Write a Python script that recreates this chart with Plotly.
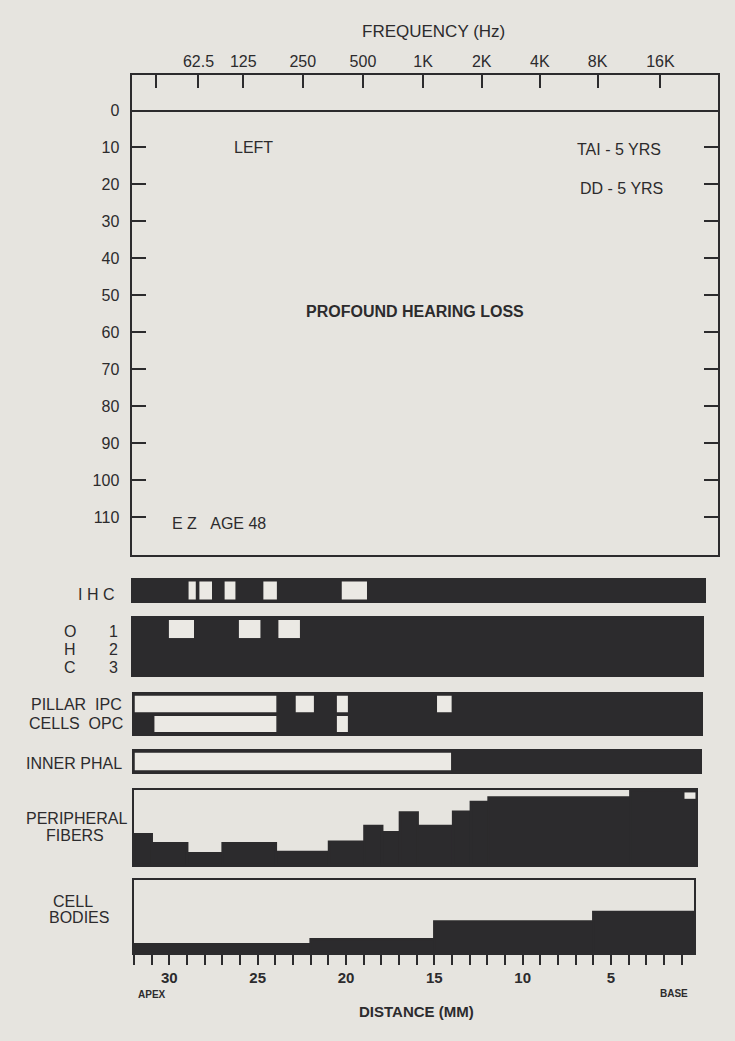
import plotly.graph_objects as go

W, H = 735, 1041
PAPER = "#e6e4df"
INK = "#2c2b2d"
LIGHT = "#ebe9e4"
FONT = "Liberation Sans, Arial, Helvetica, sans-serif"

# ---------------- data ----------------
db_ticks = [0, 10, 20, 30, 40, 50, 60, 70, 80, 90, 100, 110]
freq_labels = ["", "62.5", "125", "250", "500", "1K", "2K", "4K", "8K", "16K"]
freq_mm = [30.65, 28.38, 25.96, 22.74, 19.49, 16.24, 13.07, 9.93, 6.81, 3.41]

# inner hair cells: segments shown light (mm from base)
ihc_start = [28.9, 28.3, 26.9, 24.75, 20.4]
ihc_end = [28.5, 27.6, 26.3, 24.0, 19.0]

# outer hair cells (row 1..3): light segments
ohc_row = [1, 1, 1]
ohc_start = [30.0, 26.1, 23.9]
ohc_end = [28.6, 24.9, 22.7]

# pillar cells: light segments
ipc_start = [32.0, 23.0, 20.7, 15.1]
ipc_end = [24.0, 21.9, 20.0, 14.2]
opc_start = [30.9, 20.7]
opc_end = [24.0, 20.0]

# inner phalangeal cells: light segments
iph_start = [32.0]
iph_end = [14.2]

# peripheral fibers: step profile (fraction of normal)
pf_edges = [32, 31, 29, 27, 24, 21, 19, 18, 17, 16, 14, 13, 12, 4, 0.3]
pf_levels = [0.41, 0.29, 0.156, 0.29, 0.173, 0.31, 0.52, 0.436, 0.70, 0.52, 0.71, 0.84, 0.90, 1.0]
pf_gap_start = [0.95]
pf_gap_end = [0.33]

# spiral ganglion cell bodies: step profile
cb_edges = [32, 22, 15, 6, 0.3]
cb_levels = [0.12, 0.19, 0.43, 0.56]

dist_ticks = list(range(1, 33))
dist_labels = [f"<b>{v}</b>" if v % 5 == 0 and v <= 30 else "" for v in dist_ticks]

XR = [32, 0.3]


def px(x):
    return x / W


def py(y):
    return 1 - y / H


def xax(l, r, anchor, **kw):
    d = dict(domain=[px(l), px(r)], range=XR, anchor=anchor, showline=True, mirror=True,
             linecolor=INK, linewidth=2, showgrid=False, zeroline=False, ticks="",
             showticklabels=False, fixedrange=True)
    d.update(kw)
    return d


def yax(top, bot, rng, anchor, **kw):
    d = dict(domain=[py(bot), py(top)], range=rng, anchor=anchor, showline=True, mirror=True,
             linecolor=INK, linewidth=2, showgrid=False, zeroline=False, ticks="",
             showticklabels=False, fixedrange=True)
    d.update(kw)
    return d


fig = go.Figure()


def seg_bars(starts, ends, ycenter, width, xa, ya, color=LIGHT, lw=0):
    fig.add_trace(go.Bar(
        orientation="h",
        y=ycenter, x=[s - e for s, e in zip(starts, ends)], base=ends,
        width=width, marker=dict(color=color, line=dict(color=INK, width=lw)),
        xaxis=xa, yaxis=ya, hoverinfo="skip", showlegend=False))


def profile_bars(edges, levels, xa, ya):
    centers = [(a + b) / 2 for a, b in zip(edges[:-1], edges[1:])]
    widths = [a - b for a, b in zip(edges[:-1], edges[1:])]
    fig.add_trace(go.Bar(
        x=centers, y=levels, width=widths,
        marker=dict(color=INK, line=dict(color=INK, width=2.5)),
        xaxis=xa, yaxis=ya, hoverinfo="skip", showlegend=False))


# audiogram placeholder traces (no thresholds: profound loss)
fig.add_trace(go.Scatter(x=[16], y=[50], mode="markers", marker=dict(opacity=0),
                         xaxis="x", yaxis="y", hoverinfo="skip", showlegend=False))
fig.add_trace(go.Scatter(x=[16], y=[50], mode="markers", marker=dict(opacity=0),
                         xaxis="x2", yaxis="y", hoverinfo="skip", showlegend=False))

# IHC
seg_bars([XR[0]], [XR[1]], [0.5], 1.0, "x3", "y3", color=INK)
seg_bars(ihc_start, ihc_end, [0.5] * len(ihc_start), 0.86, "x3", "y3")

# OHC
seg_bars([XR[0]], [XR[1]], [1.5], 3.0, "x4", "y4", color=INK)
seg_bars(ohc_start, ohc_end, [3 - r + 0.42 for r in ohc_row], 0.95, "x4", "y4")

# Pillar cells
seg_bars([XR[0]], [XR[1]], [1.0], 2.0, "x5", "y5", color=INK)
seg_bars(ipc_start, ipc_end, [1.5] * len(ipc_start), 0.9, "x5", "y5", lw=1.5)
seg_bars(opc_start, opc_end, [0.5] * len(opc_start), 0.88, "x5", "y5", lw=1.5)

# Inner phalangeal
seg_bars([XR[0]], [XR[1]], [0.5], 1.0, "x6", "y6", color=INK)
seg_bars(iph_start, iph_end, [0.5], 0.9, "x6", "y6", lw=1.5)

# Peripheral fibers
profile_bars(pf_edges, pf_levels, "x7", "y7")
seg_bars(pf_gap_start, pf_gap_end, [0.925], 0.085, "x7", "y7")

# Cell bodies
profile_bars(cb_edges, cb_levels, "x8", "y8")

tickfont = dict(family=FONT, size=16, color=INK)

fig.update_layout(
    width=W, height=H, margin=dict(l=0, r=0, t=0, b=0),
    paper_bgcolor=PAPER, plot_bgcolor="rgba(0,0,0,0)",
    barmode="overlay", showlegend=False,
    font=dict(family=FONT, color=INK),
    xaxis=xax(131.5, 718, "y"),
    xaxis2=dict(overlaying="x", side="top", anchor="y", range=XR, tickvals=freq_mm,
                ticktext=freq_labels, ticks="inside", ticklen=13, tickwidth=2,
                tickcolor=INK, tickfont=dict(family=FONT, size=16, color=INK),
                showline=False, showgrid=False, zeroline=False, fixedrange=True,
                ticklabelstandoff=4),
    yaxis=yax(75, 555, [120.2, -9.6], "x", tickvals=db_ticks, ticks="inside", ticklen=14,
              tickwidth=2, tickcolor=INK, showticklabels=True, tickfont=tickfont,
              mirror="ticks", zeroline=True, zerolinecolor=INK, zerolinewidth=2,
              ticklabelstandoff=7),
    xaxis3=xax(132.7, 704, "y3"), yaxis3=yax(580, 601, [0, 1], "x3"),
    xaxis4=xax(133, 702, "y4"), yaxis4=yax(618, 675, [0, 3], "x4"),
    xaxis5=xax(134, 701, "y5"), yaxis5=yax(694, 734, [0, 2], "x5"),
    xaxis6=xax(134, 700, "y6"), yaxis6=yax(751, 772, [0, 1], "x6"),
    xaxis7=xax(134, 696, "y7"), yaxis7=yax(790, 865, [0, 1], "x7"),
    xaxis8=xax(134, 694, "y8", tickvals=dist_ticks, ticktext=dist_labels, ticks="outside",
               ticklen=10, tickwidth=2, tickcolor=INK, showticklabels=True,
               tickfont=dict(family=FONT, size=15, color=INK), ticklabelstandoff=0),
    yaxis8=yax(880, 953, [0, 1], "x8"),
)


def note(text, x, y, size=16, anchor="center", bold=False):
    fig.add_annotation(text=f"<b>{text}</b>" if bold else text, x=px(x), y=py(y),
                       xref="paper", yref="paper", showarrow=False, xanchor=anchor,
                       yanchor="middle", font=dict(family=FONT, size=size, color=INK))


note("FREQUENCY (Hz)", 433, 32, size=17)
note("LEFT", 253, 147)
note("TAI - 5 YRS", 619, 150)
note("DD - 5 YRS", 621, 188)
note("PROFOUND HEARING LOSS", 415, 311, bold=True)
note("E Z&nbsp;&nbsp;&nbsp;AGE 48", 219, 523)

note("I&nbsp;H&nbsp;C", 116, 594, size=16, anchor="right")
for lab, num, yy in zip(["O", "H", "C"], ["1", "2", "3"], [631, 649, 667]):
    note(lab, 70, yy, size=16)
    note(num, 113, yy, size=16)
note("PILLAR&nbsp;&nbsp;IPC", 124, 704, size=16, anchor="right")
note("CELLS&nbsp;&nbsp;OPC", 125, 723, size=16, anchor="right")
note("INNER PHAL", 124, 763, size=16, anchor="right")
note("PERIPHERAL", 76, 818, size=16)
note("FIBERS", 75, 835, size=16)
note("CELL", 73, 901, size=16)
note("BODIES", 79, 917, size=16)
note("APEX", 152, 994, size=10, bold=True)
note("BASE", 674, 993, size=10, bold=True)
note("DISTANCE (MM)", 416, 1011, size=15, bold=True)

fig.write_html("out.html")
